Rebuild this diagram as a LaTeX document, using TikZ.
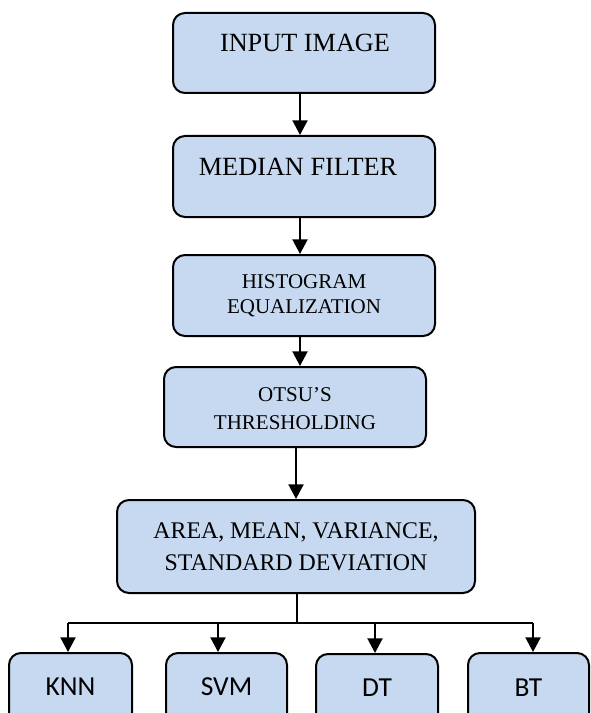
\documentclass[tikz,border=0pt]{standalone}
\usepackage{fontspec}
\setmainfont{Liberation Serif}
\newfontfamily\calib{Carlito}
\usetikzlibrary{arrows.meta}
\definecolor{boxfill}{RGB}{198,217,240}
\tikzset{
  box/.style={draw=black, line width=1.5pt, fill=boxfill, rounded corners=9pt, inner sep=0pt, rectangle},
  lbl/.style={inner sep=0pt, align=center, text=black},
  arr/.style={line width=1.5pt, -{Triangle[width=11.25pt,length=11pt]}},
  ln/.style={line width=1.5pt}
}
\begin{document}
\begin{tikzpicture}[x=0.75pt,y=-0.75pt]
\clip (0,0) rectangle (590,713);
\fill[white] (0,0) rectangle (590,713);
% boxes
\node[box, minimum width=196.5pt, minimum height=60pt] (b1) at (304,53) {};
\node[box, minimum width=196.5pt, minimum height=60.75pt] (b2) at (304,176.5) {};
\node[box, minimum width=196.5pt, minimum height=60.75pt] (b3) at (304,295.5) {};
\node[box, minimum width=196.5pt, minimum height=60pt] (b4) at (295,407) {};
\node[box, minimum width=268.5pt, minimum height=69.75pt] (b5) at (296,546.5) {};
\node[box, minimum width=92.25pt, minimum height=61.5pt] (knn) at (70.5,694) {};
\node[box, minimum width=90.75pt, minimum height=61.5pt] (svm) at (226.5,694) {};
\node[box, minimum width=91.5pt, minimum height=61.5pt] (dt) at (377,695) {};
\node[box, minimum width=90.75pt, minimum height=61.5pt] (bt) at (528.5,694) {};
% labels
\node[lbl, font=\fontsize{19.7pt}{24pt}\selectfont] (t1) at (305,42.5) {INPUT IMAGE};
\node[lbl, font=\fontsize{19.7pt}{24pt}\selectfont] (t2) at (298,167) {MEDIAN FILTER};
\node[lbl, font=\fontsize{15.75pt}{18.75pt}\selectfont] (t3) at (304,296) {HISTOGRAM\\EQUALIZATION};
\node[lbl, font=\fontsize{15.75pt}{21pt}\selectfont] (t4) at (295,409) {OTSU’S\\THRESHOLDING};
\node[lbl, font=\fontsize{17.9pt}{24pt}\selectfont] (t5) at (296,547) {AREA, MEAN, VARIANCE,\\STANDARD DEVIATION};
\node[lbl, font=\calib\fontsize{20.6pt}{24pt}\selectfont] (tk) at (70.5,687) {KNN};
\node[lbl, font=\calib\fontsize{20.6pt}{24pt}\selectfont] (ts) at (226.5,687) {SVM};
\node[lbl, font=\calib\fontsize{20.6pt}{24pt}\selectfont] (td) at (377,688) {DT};
\node[lbl, font=\calib\fontsize{20.6pt}{24pt}\selectfont] (tb) at (528.5,688) {BT};
% connectors
\draw[arr] (b1.south -| 300,0) -- (b2.north -| 300,0);
\draw[arr] (b2.south -| 300,0) -- (b3.north -| 300,0);
\draw[arr] (b3.south -| 300,0) -- (b4.north -| 300,0);
\draw[arr] (b4.south -| 296,0) -- (b5.north -| 296,0);
\coordinate (split) at (297,623);
\coordinate (hl) at (68,623);
\coordinate (hr) at (533,623);
\draw[ln] (b5.south -| split) -- (split);
\draw[ln] (hl) -- (hr);
\draw[arr] (hl) -- (knn.north -| hl);
\draw[arr] (218,623) -- (svm.north -| 218,0);
\draw[arr] (375,623) -- (dt.north -| 375,0);
\draw[arr] (hr) -- (bt.north -| hr);
\end{tikzpicture}
\end{document}
